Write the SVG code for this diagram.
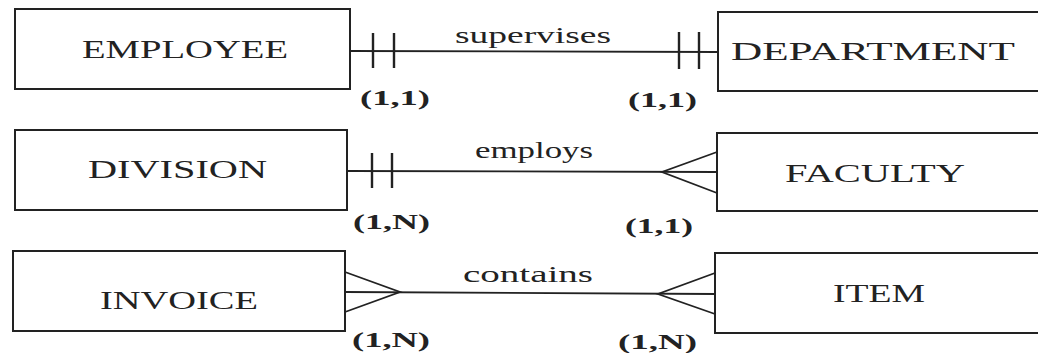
<svg xmlns="http://www.w3.org/2000/svg" width="1038" height="353" viewBox="0 0 1038 353">
<style>
.box{fill:#fff;stroke:#222;stroke-width:2}
.ln{fill:none;stroke:#222;stroke-width:1.8}
.tk{fill:none;stroke:#222;stroke-width:2.4}
.nm{font-family:"Liberation Serif",serif;font-size:25px;fill:#222;text-anchor:start}
.rl{font-family:"Liberation Serif",serif;font-size:24px;fill:#222}
.cd{font-family:"Liberation Serif",serif;font-size:20px;font-weight:bold;fill:#222}
</style>
<rect width="1038" height="353" fill="#fff"/>
<g id="employee"><rect class="box" x="15" y="9" width="335" height="80"/><text class="nm" x="82" y="58" textLength="206" lengthAdjust="spacingAndGlyphs">EMPLOYEE</text></g>
<g id="department"><rect class="box" x="718" y="12" width="330" height="79"/><text class="nm" x="731" y="60" textLength="284" lengthAdjust="spacingAndGlyphs">DEPARTMENT</text></g>
<g id="division"><rect class="box" x="15" y="130" width="332" height="80"/><text class="nm" x="88" y="178" textLength="179" lengthAdjust="spacingAndGlyphs">DIVISION</text></g>
<g id="faculty"><rect class="box" x="717" y="133" width="331" height="78"/><text class="nm" x="785" y="182" textLength="180" lengthAdjust="spacingAndGlyphs">FACULTY</text></g>
<g id="invoice"><rect class="box" x="13" y="251" width="332" height="80"/><text class="nm" x="100" y="309" textLength="158" lengthAdjust="spacingAndGlyphs">INVOICE</text></g>
<g id="item"><rect class="box" x="715" y="253" width="333" height="80"/><text class="nm" x="833" y="302" textLength="92" lengthAdjust="spacingAndGlyphs">ITEM</text></g>
<g id="connectors">
<line class="ln" x1="350" y1="51" x2="718" y2="52"/>
<line class="tk" x1="373" y1="33" x2="373" y2="68"/>
<line class="tk" x1="394" y1="33" x2="394" y2="68"/>
<line class="tk" x1="679" y1="32" x2="679" y2="69"/>
<line class="tk" x1="699" y1="32" x2="699" y2="69"/>
<text class="rl" x="455" y="43" textLength="156" lengthAdjust="spacingAndGlyphs">supervises</text>
<text class="cd" x="360" y="105" textLength="70" lengthAdjust="spacingAndGlyphs">(1,1)</text>
<text class="cd" x="628" y="107" textLength="69" lengthAdjust="spacingAndGlyphs">(1,1)</text>

<line class="ln" x1="347" y1="171" x2="717" y2="172"/>
<line class="tk" x1="372" y1="153" x2="372" y2="188"/>
<line class="tk" x1="392" y1="153" x2="392" y2="188"/>
<polyline class="ln" points="717,152 662,172 717,193"/>
<text class="rl" x="475" y="158" textLength="118" lengthAdjust="spacingAndGlyphs">employs</text>
<text class="cd" x="353" y="229" textLength="77" lengthAdjust="spacingAndGlyphs">(1,N)</text>
<text class="cd" x="625" y="233" textLength="68" lengthAdjust="spacingAndGlyphs">(1,1)</text>

<line class="ln" x1="345" y1="292" x2="715" y2="294"/>
<polyline class="ln" points="345,272 400,292 345,312"/>
<polyline class="ln" points="715,273 658,294 715,314"/>
<text class="rl" x="463" y="282" textLength="130" lengthAdjust="spacingAndGlyphs">contains</text>
<text class="cd" x="352" y="347" textLength="78" lengthAdjust="spacingAndGlyphs">(1,N)</text>
<text class="cd" x="618" y="349" textLength="79" lengthAdjust="spacingAndGlyphs">(1,N)</text>
</g>
</svg>
